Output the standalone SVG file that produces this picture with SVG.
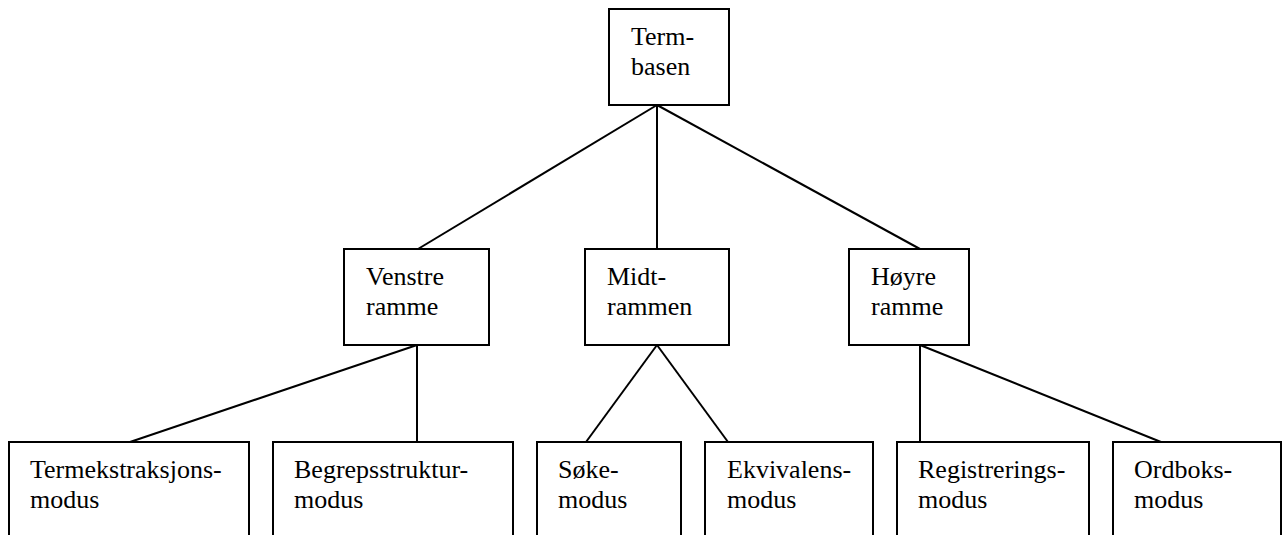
<svg xmlns="http://www.w3.org/2000/svg" width="1284" height="535" viewBox="0 0 1284 535">
<style>
.box{fill:#fff;stroke:#000;stroke-width:2}
.lbl{font-size:26px;fill:#000}
.edge{stroke:#000;stroke-width:2;fill:none}
</style>
<rect width="1284" height="535" fill="#fff"/>
<g id="connectors">
<line class="edge" x1="657" y1="105" x2="418" y2="249"/>
<line class="edge" x1="657" y1="105" x2="657" y2="249"/>
<line class="edge" x1="657" y1="105" x2="920" y2="249"/>
<line class="edge" x1="417" y1="345" x2="130" y2="442"/>
<line class="edge" x1="417" y1="345" x2="417" y2="442"/>
<line class="edge" x1="657" y1="345" x2="586" y2="442"/>
<line class="edge" x1="657" y1="345" x2="728" y2="442"/>
<line class="edge" x1="920" y1="345" x2="920" y2="442"/>
<line class="edge" x1="920" y1="345" x2="1161" y2="442"/>
</g>
<g font-family="'Liberation Serif', 'DejaVu Serif', serif">
<g id="termbasen">
<rect class="box" x="609" y="9" width="120" height="96"/>
<text class="lbl" x="631" y="45">Term-</text>
<text class="lbl" x="631" y="75">basen</text>
</g>
<g id="venstre">
<rect class="box" x="344" y="249" width="145" height="96"/>
<text class="lbl" x="366" y="285">Venstre</text>
<text class="lbl" x="366" y="315">ramme</text>
</g>
<g id="midt">
<rect class="box" x="585" y="249" width="144" height="96"/>
<text class="lbl" x="607" y="285">Midt-</text>
<text class="lbl" x="607" y="315">rammen</text>
</g>
<g id="hoyre">
<rect class="box" x="849" y="249" width="120" height="96"/>
<text class="lbl" x="871" y="285">Høyre</text>
<text class="lbl" x="871" y="315">ramme</text>
</g>
<g id="termekstraksjon">
<rect class="box" x="9" y="442" width="240" height="110"/>
<text class="lbl" x="30" y="478">Termekstraksjons-</text>
<text class="lbl" x="30" y="508">modus</text>
</g>
<g id="begrepsstruktur">
<rect class="box" x="273" y="442" width="240" height="110"/>
<text class="lbl" x="294" y="478">Begrepsstruktur-</text>
<text class="lbl" x="294" y="508">modus</text>
</g>
<g id="soke">
<rect class="box" x="537" y="442" width="144" height="110"/>
<text class="lbl" x="558" y="478">Søke-</text>
<text class="lbl" x="558" y="508">modus</text>
</g>
<g id="ekvivalens">
<rect class="box" x="705" y="442" width="168" height="110"/>
<text class="lbl" x="727" y="478">Ekvivalens-</text>
<text class="lbl" x="727" y="508">modus</text>
</g>
<g id="registrering">
<rect class="box" x="897" y="442" width="192" height="110"/>
<text class="lbl" x="918" y="478">Registrerings-</text>
<text class="lbl" x="918" y="508">modus</text>
</g>
<g id="ordboks">
<rect class="box" x="1113" y="442" width="168" height="110"/>
<text class="lbl" x="1134" y="478">Ordboks-</text>
<text class="lbl" x="1134" y="508">modus</text>
</g>
</g>
</svg>
